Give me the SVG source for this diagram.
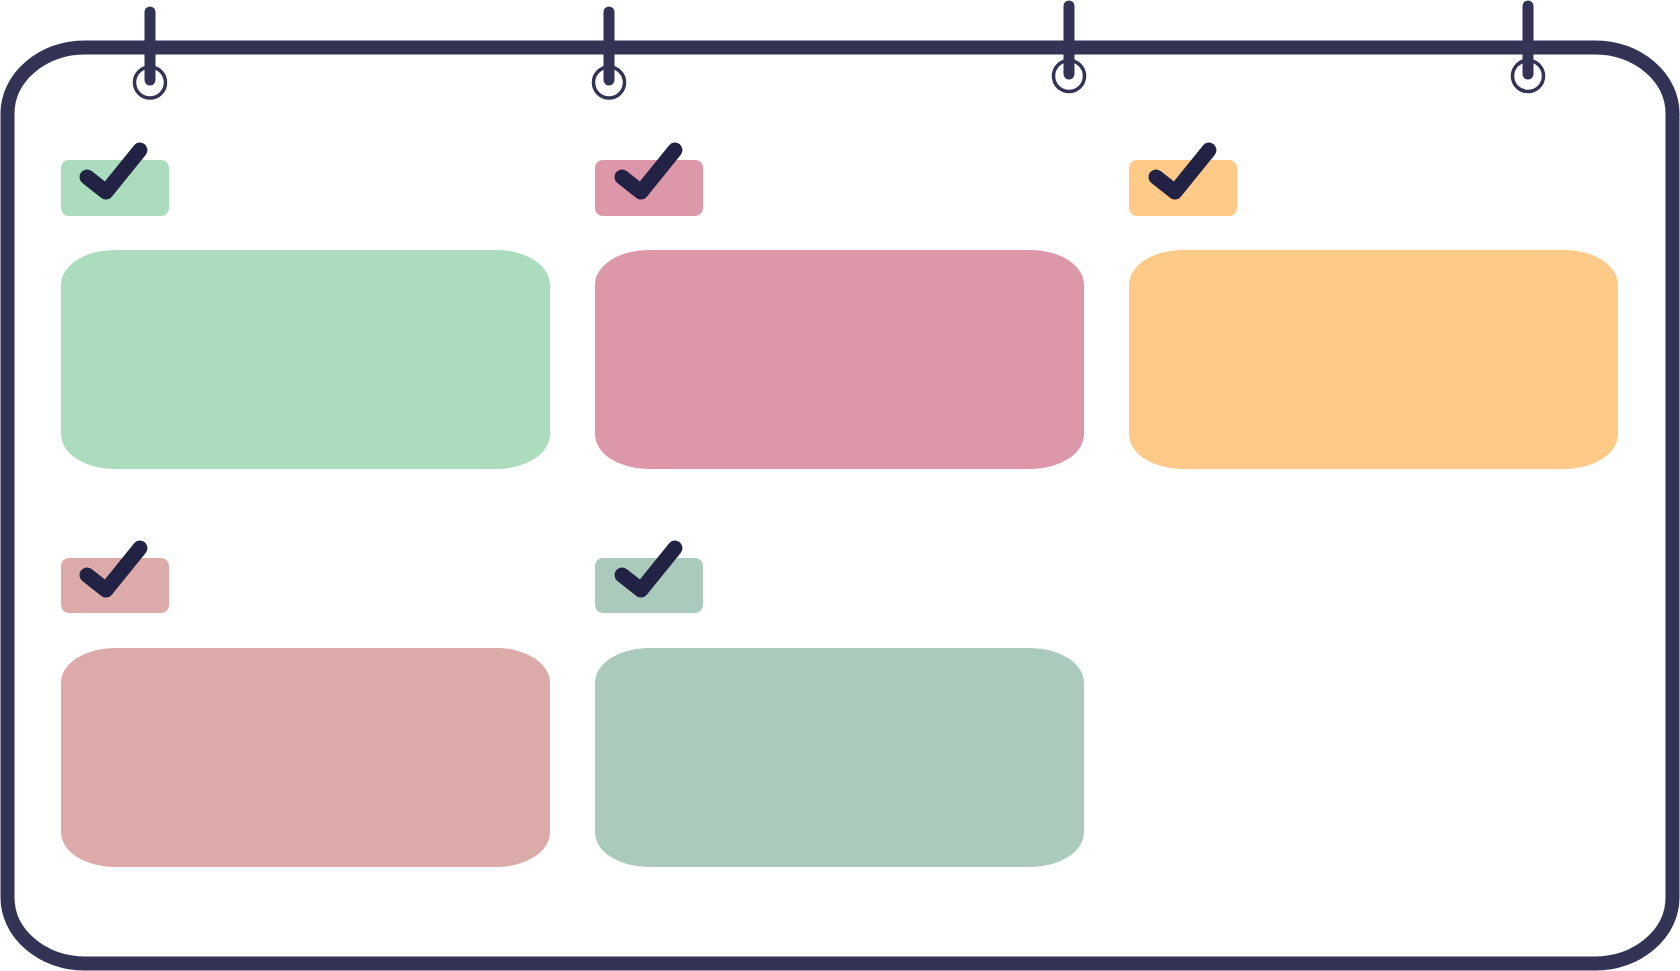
<svg xmlns="http://www.w3.org/2000/svg" width="1680" height="971" viewBox="0 0 1680 971">
<style>
.frame{fill:#ffffff;stroke:#333355;stroke-width:14}
.pin{stroke:#333355;stroke-width:11;stroke-linecap:round;fill:none}
.ring{stroke:#333355;stroke-width:3.5;fill:none}
.check{stroke:#222244;stroke-width:15;stroke-linecap:round;stroke-linejoin:round;fill:none}
.green{fill:#aadcbd}.pink{fill:#dc97a9}.yellow{fill:#fdca88}.rose{fill:#dcaaa9}.sage{fill:#aacbbc}
</style>
<rect width="1680" height="971" fill="#ffffff"/>
<g id="frame">
<rect class="frame" x="7.5" y="47.5" width="1665" height="916" rx="78" ry="66"/>
</g>
<g id="pins">
<line class="pin" x1="150" y1="12" x2="150" y2="80"/><circle class="ring" cx="150" cy="82.5" r="15.5"/>
<line class="pin" x1="609" y1="12" x2="609" y2="80"/><circle class="ring" cx="609" cy="82.5" r="15.5"/>
<line class="pin" x1="1069" y1="6" x2="1069" y2="74"/><circle class="ring" cx="1069" cy="76" r="15.5"/>
<line class="pin" x1="1528" y1="6" x2="1528" y2="74"/><circle class="ring" cx="1528" cy="76" r="15.5"/>
</g>
<g id="card1">
<rect class="green" x="61" y="160" width="108" height="56" rx="8"/>
<polyline class="check" points="87,177 106,192 140,150"/>
<rect class="green" x="61" y="250" width="489" height="219" rx="53" ry="35"/>
</g>
<g id="card2">
<rect class="pink" x="595" y="160" width="108" height="56" rx="8"/>
<polyline class="check" points="622,177 641,192 675,150"/>
<rect class="pink" x="595" y="250" width="489" height="219" rx="53" ry="35"/>
</g>
<g id="card3">
<rect class="yellow" x="1129" y="160" width="108" height="56" rx="8"/>
<polyline class="check" points="1156,177 1175,192 1209,150"/>
<rect class="yellow" x="1129" y="250" width="489" height="219" rx="53" ry="35"/>
</g>
<g id="card4">
<rect class="rose" x="61" y="558" width="108" height="55" rx="8"/>
<polyline class="check" points="87,575 106,590 140,548"/>
<rect class="rose" x="61" y="648" width="489" height="219" rx="53" ry="35"/>
</g>
<g id="card5">
<rect class="sage" x="595" y="558" width="108" height="55" rx="8"/>
<polyline class="check" points="622,575 641,590 675,548"/>
<rect class="sage" x="595" y="648" width="489" height="219" rx="53" ry="35"/>
</g>
<g id="connectors"/>
</svg>
